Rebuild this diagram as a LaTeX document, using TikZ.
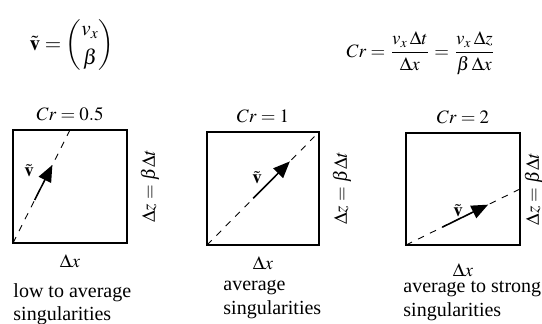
\documentclass[tikz,border=0pt]{standalone}
\usepackage{amsmath}
\usepackage{mathptmx}
\usepackage[no-math]{fontspec}
\setmainfont{Liberation Serif}
\usepackage{tikz}
\usetikzlibrary{positioning,arrows,calc}
\tikzset{
  cell/.style={draw=black, line width=0.9pt},
  track/.style={draw=black, dashed, thin},
  velo/.style={draw=black, line width=0.7pt, -triangle 45},
  lab/.style={inner sep=1pt, font=\fontsize{8.5}{10}\selectfont},
  side/.style={lab, rotate=90},
  remark/.style={anchor=north west, align=left, inner sep=0pt, font=\fontsize{9}{10.5}\selectfont}
}
\newcommand{\vt}{\tilde{\mathbf{v}}}

\begin{document}
\begin{tikzpicture}[x=0.45pt, y=-0.45pt]
    \useasboundingbox (0,0) rectangle (542,323);

    \node[lab, font=\fontsize{9.5}{11}\selectfont] (vdef) at (72,45) {$\vt=\begin{pmatrix} v_x\\[2pt] \beta\end{pmatrix}$};
    \node[lab] (crdef) at (421,53) {$Cr=\dfrac{v_x\,\Delta t}{\Delta x}=\dfrac{v_x\,\Delta z}{\beta\,\Delta x}$};

    % Cr = 0.5
    \coordinate (bl1) at (13,243);
    \coordinate (tr1) at (127,130);
    \coordinate (end1) at ($(bl1-|tr1)!0.5!(tr1)$);
    \coordinate (hit1) at ($(tr1-|bl1)!0.5!(tr1)$);
    \draw[cell] (bl1) rectangle (tr1);
    \draw[track] (bl1) -- (hit1);
    \draw[velo] ($(bl1)!0.38!(hit1)$) -- ($(bl1)!0.69!(hit1)$);
    \node[lab] (v1) at (29,171) {$\vt$};
    \node[lab, above=3pt of hit1] (cr1) {$Cr=0.5$};
    \node[side, right=5pt of end1, anchor=north] (dz1) {$\Delta z=\beta\Delta t$};
    \node[lab, below=4pt of $(bl1)!0.5!(bl1-|tr1)$] (dx1) {$\Delta x$};
    \node[remark] (txt1) at (13,283) {low to average\\singularities};

    % Cr = 1
    \coordinate (bl2) at (207,245);
    \coordinate (tr2) at (319,132);
    \coordinate (end2) at ($(bl2-|tr2)!0.5!(tr2)$);
    \coordinate (top2) at ($(tr2-|bl2)!0.5!(tr2)$);
    \coordinate (hit2) at ($(bl2)!0.96!(tr2)$);
    \draw[cell] (bl2) rectangle (tr2);
    \draw[track] (bl2) -- (hit2);
    \draw[velo] ($(bl2)!0.43!(hit2)$) -- ($(bl2)!0.77!(hit2)$);
    \node[lab] (v2) at (257,178) {$\vt$};
    \node[lab, above=3pt of top2] (cr2) {$Cr=1$};
    \node[side, right=5pt of end2, anchor=north] (dz2) {$\Delta z=\beta\Delta t$};
    \node[lab, below=4pt of $(bl2)!0.5!(bl2-|tr2)$] (dx2) {$\Delta x$};
    \node[remark] (txt2) at (223,280) {average\\singularities};

    % Cr = 2
    \coordinate (bl3) at (406,245);
    \coordinate (tr3) at (520,133);
    \coordinate (end3) at ($(bl3-|tr3)!0.5!(tr3)$);
    \coordinate (top3) at ($(tr3-|bl3)!0.5!(tr3)$);
    \draw[cell] (bl3) rectangle (tr3);
    \draw[track] (bl3) -- (end3);
    \draw[velo] ($(bl3)!0.32!(end3)$) -- ($(bl3)!0.72!(end3)$);
    \node[lab] (v3) at (458,211) {$\vt$};
    \node[lab, above=3pt of top3] (cr3) {$Cr=2$};
    \node[side, right=1pt of end3, anchor=north] (dz3) {$\Delta z=\beta\Delta t$};
    \node[lab, below=7pt of $(bl3)!0.5!(bl3-|tr3)$] (dx3) {$\Delta x$};
    \node[remark] (txt3) at (403,281) {average to strong\\singularities};
  \end{tikzpicture}
\end{document}
